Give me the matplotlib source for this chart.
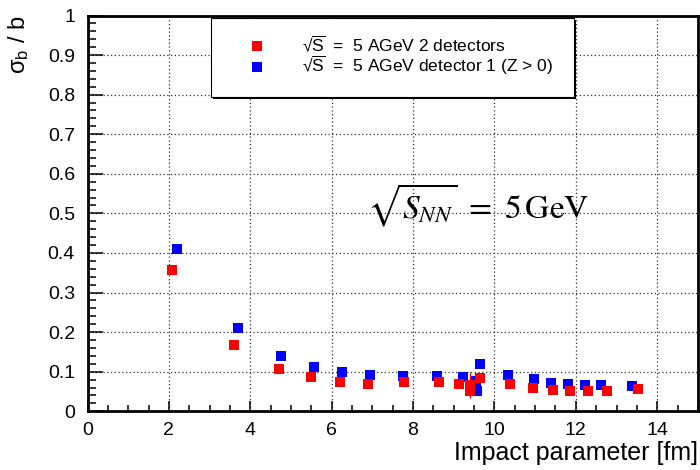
import matplotlib
matplotlib.use("Agg")
import matplotlib.pyplot as plt
from matplotlib.patches import Rectangle
from matplotlib.lines import Line2D
from matplotlib.ticker import MultipleLocator

plt.rcParams['font.family'] = ['Liberation Sans', 'DejaVu Sans']
plt.rcParams['mathtext.fontset'] = 'custom'
plt.rcParams['mathtext.rm'] = 'Liberation Sans'
plt.rcParams['mathtext.it'] = 'Liberation Sans:italic'

# sigma_b / b vs impact parameter, two detector setups
b_two = [2.08, 3.61, 4.70, 5.49, 6.21, 6.90, 7.78, 8.65, 9.14, 9.40, 9.41,
         9.65, 10.39, 10.94, 11.43, 11.86, 12.30, 12.77, 13.54]
res_two = [0.357, 0.168, 0.107, 0.086, 0.074, 0.069, 0.075, 0.075, 0.069, 0.066, 0.051,
           0.083, 0.069, 0.060, 0.054, 0.051, 0.051, 0.051, 0.057]
err_two = [0, 0, 0, 0, 0, 0, 0, 0, 0, 0.032, 0,
           0, 0, 0, 0, 0, 0, 0, 0]

b_one = [2.20, 3.69, 4.75, 5.56, 6.25, 6.95, 7.76, 8.59, 9.22, 9.54, 9.56,
         9.65, 10.34, 10.98, 11.40, 11.80, 12.23, 12.63, 13.38]
res_one = [0.411, 0.210, 0.140, 0.113, 0.098, 0.092, 0.089, 0.089, 0.087, 0.076, 0.050,
           0.119, 0.092, 0.081, 0.071, 0.069, 0.066, 0.066, 0.063]

lab_two = r"√$\overline{\mathregular{S}}$  =  5 AGeV 2 detectors"
lab_one = r"√$\overline{\mathregular{S}}$  =  5 AGeV detector 1 (Z > 0)"

RED = '#ff0000'
BLUE = '#0000ff'
MS = 6.5

fig = plt.figure(figsize=(7, 4.7), dpi=100)
ax = fig.add_axes([0.125, 0.125, 0.872, 0.842])

ax.plot(b_one, res_one, 's', color=BLUE, ms=MS, mew=0, zorder=3)
ax.errorbar(b_two, res_two, yerr=err_two, fmt='s', color=RED, ms=MS, mew=0,
            elinewidth=1, capsize=2, zorder=4)

ax.set_xlim(0, 15)
ax.set_ylim(0, 1)
ax.xaxis.set_major_locator(MultipleLocator(2))
ax.xaxis.set_minor_locator(MultipleLocator(0.5))
ax.yaxis.set_minor_locator(MultipleLocator(0.02))
ax.set_yticks([0, 0.1, 0.2, 0.3, 0.4, 0.5, 0.6, 0.7, 0.8, 0.9, 1])
ax.set_yticklabels(['0', '0.1', '0.2', '0.3', '0.4', '0.5', '0.6', '0.7', '0.8', '0.9', '1'])

ax.grid(True, which='major', linestyle=(0, (1, 2)), color='#333333', linewidth=0.9)
ax.set_axisbelow(True)
ax.tick_params(which='both', direction='in', top=False, right=False, width=1.1, labelsize=14)
ax.tick_params(axis='x', which='major', length=7.5, pad=8)
ax.tick_params(axis='x', which='minor', length=4)
ax.tick_params(axis='y', which='major', length=11, pad=9)
ax.tick_params(axis='y', which='minor', length=5.5)
for s in ax.spines.values():
    s.set_linewidth(2)

ax.set_xlabel("Impact parameter [fm]", fontsize=18, loc='right', labelpad=1)
ax.set_ylabel(r"σ$_\mathregular{b}$ / b", fontsize=17, loc='top', labelpad=12)

ax.text(9.6, 0.52, r"$\sqrt{S_{NN}}\ =\ 5\,\mathrm{GeV}$", fontsize=24,
        math_fontfamily='stix', ha='center', va='center')

# legend box with shadow
W, H = 700.0, 470.0
x0, y0, x1, y1 = 211 / W, 1 - 97 / H, 574 / W, 1 - 18 / H
fig.patches.append(Rectangle((x0 + 2 / W, y0 - 2 / H), x1 - x0, y1 - y0, transform=fig.transFigure,
                             facecolor='black', edgecolor='none', zorder=5))
fig.patches.append(Rectangle((x0, y0), x1 - x0, y1 - y0, transform=fig.transFigure,
                             facecolor='white', edgecolor='black', linewidth=0.8, zorder=6))
rows = [(RED, lab_two, 45.5, 51), (BLUE, lab_one, 66.5, 72)]
for col, lab, ym, yb in rows:
    fig.add_artist(Line2D([256.5 / W], [1 - ym / H], marker='s', ls='none', color=col,
                          ms=MS, mew=0, transform=fig.transFigure, zorder=7))
    fig.text(302 / W, 1 - yb / H, lab, fontsize=12.5, ha='left', va='baseline', zorder=7)

fig.savefig("out.png", dpi=100)
